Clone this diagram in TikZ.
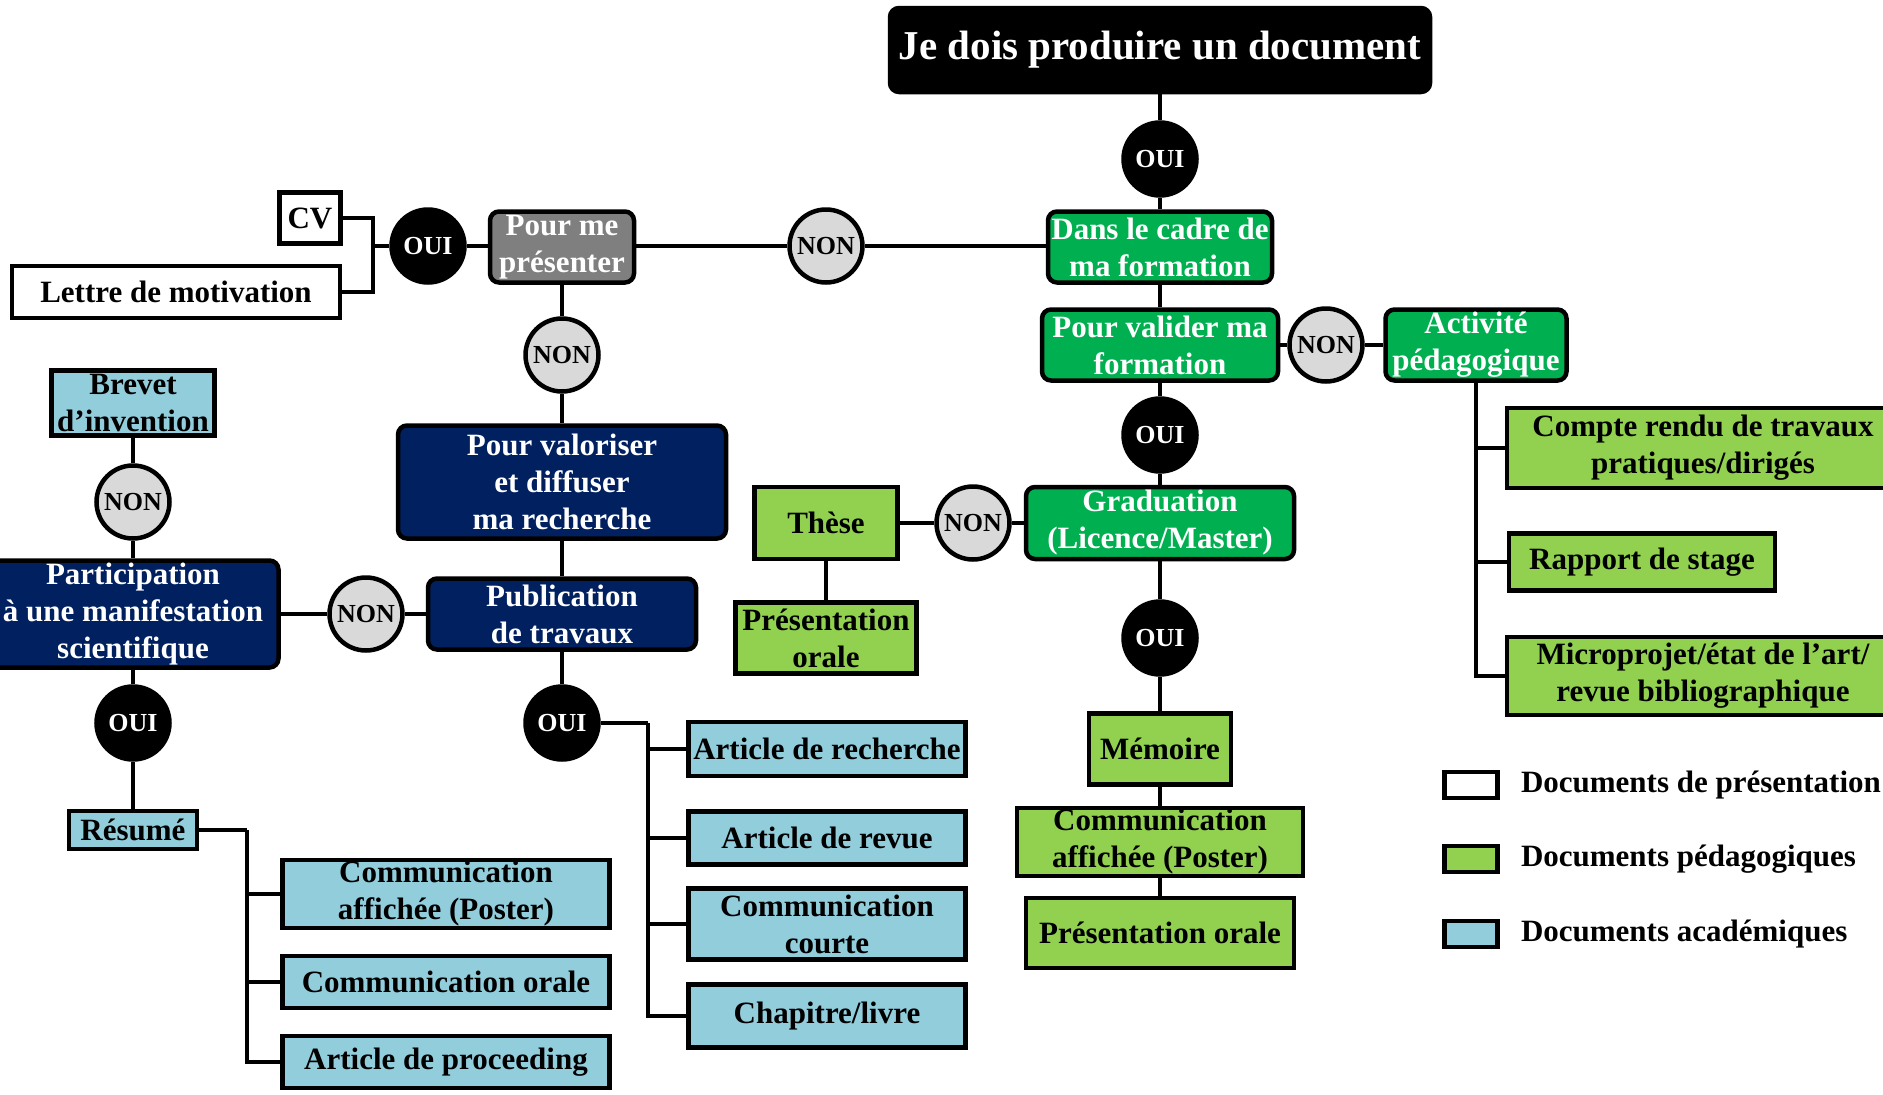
\documentclass[tikz,border=0pt]{standalone}
\usepackage{fontspec}
\setmainfont{Liberation Serif}
\usetikzlibrary{positioning}

\definecolor{vertdec}{HTML}{00B050}
\definecolor{vertdoc}{HTML}{92D050}
\definecolor{bleudoc}{HTML}{92CDDC}
\definecolor{marine}{HTML}{002060}
\definecolor{grisdec}{HTML}{7F7F7F}
\definecolor{grisnon}{HTML}{D9D9D9}

\begin{document}
\begin{tikzpicture}[x=1pt, y=-1pt, line width=4.5pt,
  txt/.style={font=\fontsize{31}{37}\selectfont\bfseries, align=center, inner sep=0pt},
  choix/.style={txt, draw, rounded corners=9pt, text=white},
  doc/.style={txt, draw},
  oui/.style={circle, draw, fill=black, minimum size=73pt, inner sep=0pt, text=white, font=\fontsize{26}{30}\selectfont\bfseries},
  non/.style={oui, fill=grisnon, text=black}]
\useasboundingbox (0,0) rectangle (1883,1095);
% Titre et formation
\node[choix, fill=black, minimum width=540, minimum height=84, font=\fontsize{41}{48}\selectfont\bfseries] (titre) at (1160,50) {Je dois produire un document};
\node[oui] (ouiA) at (1160,159) {OUI};
\node[choix, fill=vertdec, minimum width=224, minimum height=71] (cadre) at (1160,247) {Dans le cadre de\\ma formation};
\node[choix, fill=vertdec, minimum width=236, minimum height=71] (valider) at (1160,345) {Pour valider ma\\formation};
\node[non] (nonE) at (1326,345) {NON};
\node[choix, fill=vertdec, minimum width=181, minimum height=71] (activ) at (1476,345) {Activité\\pédagogique};
\node[doc, fill=vertdoc, minimum width=392, minimum height=80] (compte) at (1703,448) {Compte rendu de travaux\\pratiques/dirigés};
\node[doc, fill=vertdoc, minimum width=266, minimum height=57] (stage) at (1642,562) {Rapport de stage};
\node[doc, fill=vertdoc, minimum width=392, minimum height=78] (micro) at (1703,676) {Microprojet/état de l’art/\\revue bibliographique};
\node[oui] (ouiE) at (1160,435) {OUI};
\node[choix, fill=vertdec, minimum width=268, minimum height=72] (grad) at (1160,523) {Graduation\\(Licence/Master)};
\node[non] (nonF) at (973,523) {NON};
\node[doc, fill=vertdoc, minimum width=143, minimum height=72] (these) at (826,523) {Thèse};
\node[doc, fill=vertdoc, minimum width=181, minimum height=71] (oraleT) at (826,638) {Présentation\\orale};
\node[oui] (ouiF) at (1160,638) {OUI};
\node[doc, fill=vertdoc, minimum width=142, minimum height=71] (memoire) at (1160,749) {Mémoire};
\node[doc, fill=vertdoc, minimum width=286, minimum height=68] (posterM) at (1160,842) {Communication\\affichée (Poster)};
\node[doc, fill=vertdoc, minimum width=268, minimum height=70] (oraleM) at (1160,933) {Présentation orale};
% Présentation
\node[non] (nonA) at (826,246) {NON};
\node[choix, fill=grisdec, minimum width=144, minimum height=71] (presenter) at (562,247) {Pour me\\présenter};
\node[oui] (ouiB) at (428,246) {OUI};
\node[doc, fill=white, minimum width=61, minimum height=51] (cv) at (310,218) {CV};
\node[doc, fill=white, minimum width=328, minimum height=52] (lettre) at (176,292) {Lettre de motivation};
% Recherche
\node[non] (nonB) at (562,355) {NON};
\node[choix, fill=marine, minimum width=328, minimum height=113] (valoriser) at (562,482) {Pour valoriser\\et diffuser\\ma recherche};
\node[choix, fill=marine, minimum width=268, minimum height=71] (public) at (562,614) {Publication\\de travaux};
\node[oui] (ouiC) at (562,723) {OUI};
\node[doc, fill=bleudoc, minimum width=277, minimum height=54] (recherche) at (827,749) {Article de recherche};
\node[doc, fill=bleudoc, minimum width=277, minimum height=53] (revue) at (827,838) {Article de revue};
\node[doc, fill=bleudoc, minimum width=277, minimum height=71] (courte) at (827,924) {Communication\\courte};
\node[doc, fill=bleudoc, minimum width=277, minimum height=63] (chapitre) at (827,1016) {Chapitre/livre};
\node[non] (nonC) at (366,614) {NON};
\node[choix, fill=marine, minimum width=291, minimum height=107] (manif) at (133,614) {Participation\\à une manifestation\\scientifique};
\node[non] (nonD) at (133,502) {NON};
\node[doc, fill=bleudoc, minimum width=163, minimum height=65] (brevet) at (133,403) {Brevet\\d’invention};
\node[oui] (ouiD) at (133,723) {OUI};
\node[doc, fill=bleudoc, minimum width=128, minimum height=38] (resume) at (133,830) {Résumé};
\node[doc, fill=bleudoc, minimum width=327, minimum height=68] (posterR) at (446,894) {Communication\\affichée (Poster)};
\node[doc, fill=bleudoc, minimum width=327, minimum height=52] (oraleR) at (446,982) {Communication orale};
\node[doc, fill=bleudoc, minimum width=327, minimum height=52] (proceeding) at (446,1062) {Article de proceeding};
% Liaisons
\draw (titre) -- (ouiA) -- (cadre) -- (valider) -- (ouiE) -- (grad) -- (ouiF) -- (memoire) -- (posterM) -- (oraleM);
\draw (valider) -- (nonE) -- (activ);
\foreach \doc in {compte,stage,micro} \draw (activ.south) |- (\doc.west);
\draw (grad) -- (nonF) -- (these) -- (oraleT);
\draw (cadre.west |- nonA) -- (nonA) -- (presenter.east |- nonA);
\draw (presenter.west |- ouiB) -- (ouiB);
\coordinate (jCV) at (373,246);
\draw (ouiB) -- (jCV);
\draw (cv.east) -| (jCV) |- (lettre.east);
\draw (presenter) -- (nonB) -- (valoriser) -- (public) -- (ouiC);
\coordinate (jPub) at (648,723);
\draw (ouiC) -- (jPub);
\foreach \doc in {recherche,revue,courte,chapitre} \draw (jPub) |- (\doc.west);
\draw (public) -- (nonC) -- (manif);
\draw (brevet) -- (nonD) -- (manif) -- (ouiD) -- (resume);
\coordinate (jRes) at (247,830);
\draw (resume) -- (jRes);
\foreach \doc in {posterR,oraleR,proceeding} \draw (jRes) |- (\doc.west);
% Légende
\node[doc, fill=white, minimum width=53, minimum height=26] (legPres) at (1471,785) {};
\node[doc, fill=vertdoc, minimum width=53, minimum height=26] (legPeda) at (1471,859) {};
\node[doc, fill=bleudoc, minimum width=53, minimum height=26] (legAcad) at (1471,934) {};
\node[txt, right=19pt of legPres] {Documents de présentation};
\node[txt, right=19pt of legPeda] {Documents pédagogiques};
\node[txt, right=19pt of legAcad] {Documents académiques};
\end{tikzpicture}
\end{document}
